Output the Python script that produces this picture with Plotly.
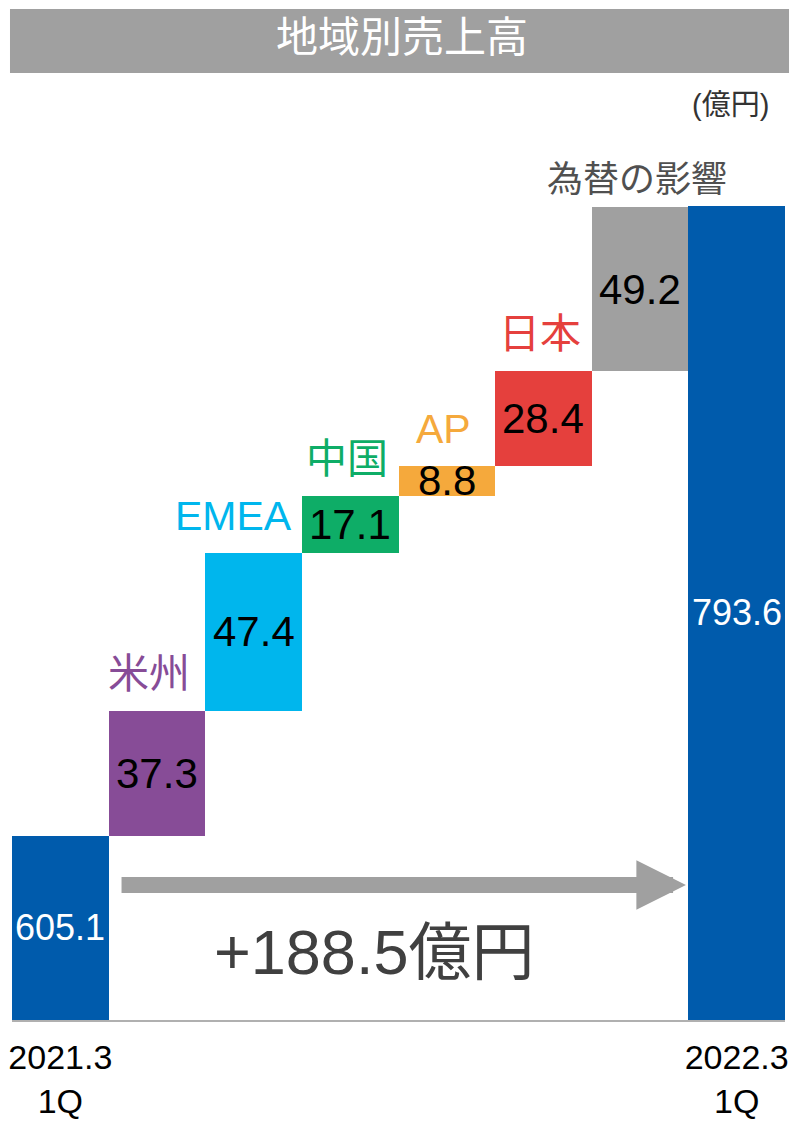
import plotly.graph_objects as go

# data
categories = ["2021.3 1Q", "米州", "EMEA", "中国", "AP", "日本", "為替の影響", "2022.3 1Q"]
values = [605.1, 37.3, 47.4, 17.1, 8.8, 28.4, 49.2, 793.6]
is_total = [True, False, False, False, False, False, False, True]
bar_colors = ["#005BAC", "#874C97", "#00B6ED", "#0EAD67", "#F5A93C", "#E5403D", "#A0A0A0", "#005BAC"]
label_colors = [None, "#874C97", "#00B6ED", "#0EAD67", "#F5A93C", "#E5403D", "#505050", None]
tick_text = ["2021.3<br>1Q", "2022.3<br>1Q"]
total_change = "+188.5億円"
title_text = "地域別売上高"
unit_text = "(億円)"

# bases for the floating bars
bases = []
running = 0.0
for v, tot in zip(values, is_total):
    if tot:
        bases.append(0.0)
        running = v
    else:
        bases.append(running)
        running += v

FONT = "Liberation Sans, Arial, Noto Sans CJK JP"

fig = go.Figure()
fig.add_trace(go.Bar(
    x=categories,
    y=values,
    base=bases,
    marker=dict(color=bar_colors, line=dict(width=0)),
    hoverinfo="skip",
))

annotations = []
for i, (cat, v, b, tot) in enumerate(zip(categories, values, bases, is_total)):
    # value label in the middle of the bar
    if tot:
        annotations.append(dict(
            x=cat, y=(550 + v) / 2, text=f"{v:.1f}", showarrow=False,
            font=dict(size=36, color="white", family=FONT),
        ))
    else:
        annotations.append(dict(
            x=cat, y=b + v / 2, text=f"{v:.1f}", showarrow=False,
            font=dict(size=42, color="black", family=FONT),
        ))
        # category label above the bar
        big = cat != "為替の影響"
        annotations.append(dict(
            x=cat, y=b + v, text=cat, showarrow=False,
            yanchor="bottom", yshift=12 if big else 5,
            xshift=-20 if cat == "EMEA" else (-8 if cat == "米州" else -3),
            font=dict(size=41 if big else 36, color=label_colors[i], family=FONT),
        ))

# arrow between the totals
annotations.append(dict(
    x=6.475, y=590.4, ax=0.618, ay=590.4, axref="x", ayref="y",
    xref="x", yref="y", text="", showarrow=True,
    arrowhead=2, arrowsize=0.62, arrowwidth=16, arrowcolor="#A0A0A0",
))
annotations.append(dict(
    x=3.25, y=571.2, text=total_change, showarrow=False, yshift=-3,
    font=dict(size=63, color="#404040", family=FONT),
))
annotations.append(dict(
    x=0.982, y=1.0, xref="paper", yref="paper", text=unit_text, showarrow=False,
    xanchor="right", yanchor="bottom", yshift=-3,
    font=dict(size=29, color="#333333", family=FONT),
))

fig.update_layout(
    width=800, height=1122,
    margin=dict(l=12, r=15, t=120, b=102),
    plot_bgcolor="white", paper_bgcolor="white",
    bargap=0, showlegend=False,
    title=dict(
        text=title_text, x=0.5025, xanchor="center",
        y=1 - 37 / 1122, yanchor="middle", yref="container",
        font=dict(size=42, color="white", family=FONT),
    ),
    annotations=annotations,
    shapes=[dict(
        type="rect", xref="paper", yref="paper",
        x0=-0.0026, x1=1.0052, y0=1.0522, y1=1.1233,
        fillcolor="#A0A0A0", line=dict(width=0), layer="below",
    )],
    xaxis=dict(
        type="category", showgrid=False, zeroline=False, automargin=False,
        showline=True, linecolor="#B0B0B0", linewidth=2,
        tickvals=[categories[0], categories[-1]], ticktext=tick_text,
        ticks="", ticklabelstandoff=6,
        tickfont=dict(size=34, color="black", family=FONT),
    ),
    yaxis=dict(range=[550, 819.3], visible=False, showgrid=False, zeroline=False,
               automargin=False),
)

fig.write_html("out.html", config={"displayModeBar": False},
               post_script="document.body.style.margin='0px';")
